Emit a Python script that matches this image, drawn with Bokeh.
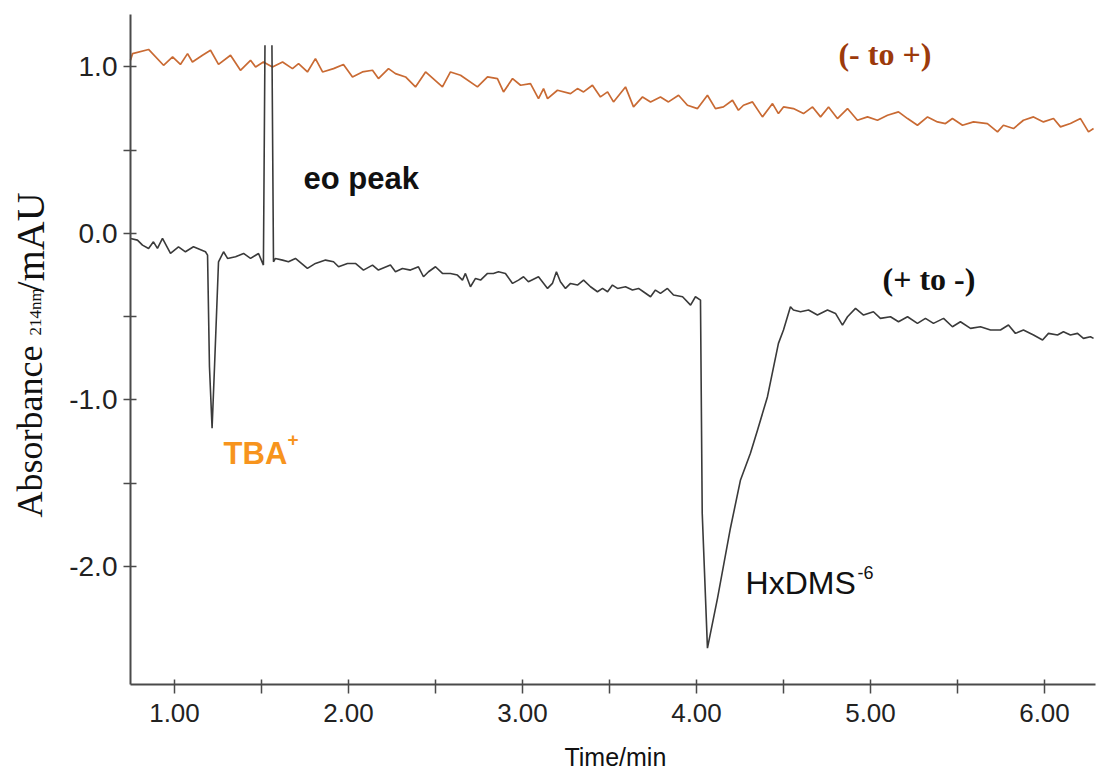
import math
from bokeh.plotting import figure
from bokeh.models import Range1d, FixedTicker, NumeralTickFormatter, Label
from bokeh.embed import file_html
from bokeh.resources import INLINE

NaN = float("nan")

# ---- data ----
# (- to +) trace (orange)
orange_time = [0.747, 0.759, 0.851, 0.937, 0.989, 1.034, 1.075, 1.103, 1.161, 1.207,
               1.253, 1.322, 1.379, 1.437, 1.466, 1.511, 1.563, 1.621, 1.678, 1.713,
               1.764, 1.810, 1.851, 1.914, 1.971, 2.023, 2.080, 2.138, 2.172, 2.230,
               2.270, 2.328, 2.385, 2.443, 2.540, 2.586, 2.644, 2.741, 2.799, 2.856,
               2.891, 2.943, 2.989, 3.046, 3.092, 3.121, 3.144, 3.201, 3.276, 3.316,
               3.351, 3.402, 3.448, 3.489, 3.523, 3.592, 3.638, 3.690, 3.736, 3.793,
               3.839, 3.897, 3.948, 4.006, 4.063, 4.109, 4.155, 4.207, 4.241, 4.270,
               4.322, 4.379, 4.437, 4.471, 4.500, 4.557, 4.615, 4.667, 4.713, 4.759,
               4.810, 4.868, 4.925, 4.983, 5.040, 5.098, 5.161, 5.213, 5.270, 5.328,
               5.385, 5.431, 5.471, 5.529, 5.592, 5.672, 5.730, 5.764, 5.822, 5.879,
               5.937, 5.994, 6.052, 6.092, 6.149, 6.207, 6.253, 6.282]
orange_abs = [1.04, 1.08, 1.105, 1.01, 1.06, 1.015, 1.08, 1.03, 1.07, 1.10,
              1.015, 1.07, 0.98, 1.04, 1.00, 1.03, 1.00, 1.03, 0.99, 1.02,
              0.97, 1.05, 0.97, 0.99, 1.015, 0.94, 0.97, 0.98, 0.93, 0.99,
              0.96, 0.94, 0.88, 0.97, 0.88, 0.97, 0.95, 0.88, 0.94, 0.93,
              0.85, 0.93, 0.89, 0.90, 0.81, 0.87, 0.81, 0.86, 0.84, 0.87,
              0.85, 0.89, 0.82, 0.85, 0.79, 0.88, 0.76, 0.82, 0.79, 0.82,
              0.79, 0.83, 0.77, 0.75, 0.83, 0.75, 0.76, 0.80, 0.74, 0.77,
              0.79, 0.70, 0.78, 0.72, 0.76, 0.75, 0.72, 0.76, 0.70, 0.76,
              0.69, 0.75, 0.68, 0.70, 0.68, 0.71, 0.73, 0.69, 0.65, 0.70,
              0.67, 0.66, 0.69, 0.65, 0.67, 0.66, 0.61, 0.65, 0.63, 0.68,
              0.70, 0.67, 0.69, 0.64, 0.66, 0.69, 0.61, 0.63]

# (+ to -) trace (black); NaN marks the off-scale top of the eo peak
black_time = [0.747, 0.787, 0.816, 0.851, 0.879, 0.902, 0.931, 0.977, 1.023, 1.063,
              1.109, 1.178, 1.190, 1.201, 1.216, 1.230, 1.253, 1.282, 1.305, 1.351,
              1.397, 1.437, 1.483, 1.511, 1.520, NaN, 1.560, 1.569, 1.580, 1.621,
              1.655, 1.695, 1.764, 1.810, 1.868, 1.914, 1.943, 1.994, 2.040, 2.086,
              2.138, 2.172, 2.241, 2.270, 2.310, 2.356, 2.402, 2.431, 2.460, 2.500,
              2.540, 2.586, 2.626, 2.655, 2.672, 2.701, 2.730, 2.759, 2.799, 2.833,
              2.862, 2.902, 2.943, 2.977, 3.006, 3.034, 3.092, 3.144, 3.172, 3.195,
              3.218, 3.247, 3.276, 3.316, 3.351, 3.391, 3.431, 3.460, 3.489, 3.517,
              3.546, 3.592, 3.632, 3.667, 3.695, 3.736, 3.764, 3.793, 3.833, 3.868,
              3.920, 3.966, 3.994, 4.023, 4.033, 4.063, 4.121, 4.195, 4.253, 4.310,
              4.351, 4.408, 4.471, 4.500, 4.540, 4.557, 4.598, 4.644, 4.695, 4.753,
              4.799, 4.839, 4.868, 4.914, 4.960, 5.017, 5.057, 5.115, 5.161, 5.213,
              5.270, 5.316, 5.362, 5.420, 5.471, 5.517, 5.575, 5.632, 5.690, 5.747,
              5.793, 5.833, 5.879, 5.937, 5.989, 6.023, 6.075, 6.109, 6.149, 6.190,
              6.224, 6.264, 6.282]
black_abs = [-0.03, -0.04, -0.07, -0.09, -0.05, -0.09, -0.03, -0.12, -0.08, -0.11,
             -0.08, -0.11, -0.13, -0.80, -1.17, -0.80, -0.17, -0.11, -0.15, -0.14,
             -0.12, -0.15, -0.12, -0.19, 1.13, NaN, 1.13, -0.17, -0.15, -0.16,
             -0.17, -0.15, -0.21, -0.18, -0.16, -0.17, -0.20, -0.18, -0.18, -0.22,
             -0.19, -0.22, -0.19, -0.23, -0.21, -0.22, -0.20, -0.26, -0.23, -0.20,
             -0.24, -0.24, -0.25, -0.28, -0.24, -0.32, -0.27, -0.28, -0.24, -0.24,
             -0.23, -0.24, -0.30, -0.28, -0.26, -0.29, -0.26, -0.33, -0.30, -0.23,
             -0.29, -0.33, -0.30, -0.31, -0.28, -0.32, -0.35, -0.33, -0.35, -0.31,
             -0.33, -0.32, -0.34, -0.33, -0.35, -0.38, -0.34, -0.36, -0.33, -0.37,
             -0.38, -0.43, -0.38, -0.40, -1.68, -2.49, -2.19, -1.77, -1.48, -1.32,
             -1.18, -0.98, -0.66, -0.58, -0.44, -0.46, -0.47, -0.46, -0.49, -0.46,
             -0.48, -0.55, -0.50, -0.45, -0.49, -0.47, -0.51, -0.50, -0.53, -0.50,
             -0.54, -0.51, -0.54, -0.51, -0.56, -0.53, -0.57, -0.56, -0.58, -0.58,
             -0.55, -0.60, -0.58, -0.61, -0.64, -0.60, -0.61, -0.59, -0.61, -0.60,
             -0.63, -0.62, -0.63]

assert len(orange_time) == len(orange_abs)
assert len(black_time) == len(black_abs)

x_major_ticks = [1, 2, 3, 4, 5, 6]
x_minor_ticks = [1.5, 2.5, 3.5, 4.5, 5.5]
y_major_ticks = [-2, -1, 0, 1]
y_minor_ticks = [-1.5, -0.5, 0.5]

x_axis_extent = (0.747, 6.293)
y_axis_extent = (-2.709, 1.315)

x_title = "Time/min"
y_title_main = "Absorbance"
y_title_sub = "214nm"
y_title_unit = "/mAU"

# ---- figure: the frame fills the canvas, axes are pinned inside it ----
p = figure(width=1096, height=773, output_backend="svg", toolbar_location=None,
           x_range=Range1d(0.0, 6.299), y_range=Range1d(-3.243, 1.399),
           min_border=0)
p.background_fill_color = "white"
p.border_fill_color = "white"
p.outline_line_color = None
p.grid.visible = False

p.line(orange_time, orange_abs, line_color="#C96A33", line_width=1.7)
p.line(black_time, black_abs, line_color="#3a3a3a", line_width=1.6)

axis_color = "#4a4a4a"
for ax in (p.xaxis[0], p.yaxis[0]):
    ax.axis_line_color = axis_color
    ax.axis_line_width = 2
    ax.major_tick_line_color = axis_color
    ax.minor_tick_line_color = axis_color
    ax.major_tick_line_width = 1.5
    ax.minor_tick_line_width = 1.5
    ax.major_label_text_font = "Liberation Sans"
    ax.major_label_text_color = "#222222"
    ax.axis_label = None

p.xaxis.fixed_location = y_axis_extent[0]
p.xaxis.bounds = x_axis_extent
p.xaxis.ticker = FixedTicker(ticks=x_major_ticks, minor_ticks=x_minor_ticks)
p.xaxis.formatter = NumeralTickFormatter(format="0.00")
p.xaxis.major_tick_in = 5
p.xaxis.major_tick_out = 9
p.xaxis.minor_tick_in = 5
p.xaxis.minor_tick_out = 9
p.xaxis.major_label_standoff = 10
p.xaxis.major_label_text_font_size = "26px"

p.yaxis.fixed_location = x_axis_extent[0]
p.yaxis.bounds = y_axis_extent
p.yaxis.ticker = FixedTicker(ticks=y_major_ticks, minor_ticks=y_minor_ticks)
p.yaxis.formatter = NumeralTickFormatter(format="0.0")
p.yaxis.major_tick_in = 6
p.yaxis.major_tick_out = 7
p.yaxis.minor_tick_in = 6
p.yaxis.minor_tick_out = 7
p.yaxis.major_label_standoff = 6
p.yaxis.major_label_text_font_size = "28px"

def lab(x, y, text, size, color="#111111", font="Liberation Sans", style="normal",
        angle=0.0, align="left"):
    p.add_layout(Label(x=x, y=y, x_units="data", y_units="data", text=text,
                       text_font=font, text_font_size=size, text_font_style=style,
                       text_color=color, angle=angle, text_align=align,
                       text_baseline="alphabetic"))

# axis titles
lab(3.534, -3.141, x_title, "25px", align="center")
lab(0.172, -1.706, y_title_main, "36px", font="Liberation Serif", angle=math.pi / 2)
lab(0.200, -0.613, y_title_sub, "17px", font="Liberation Serif", angle=math.pi / 2)
lab(0.172, -0.354, y_title_unit, "40px", font="Liberation Serif", angle=math.pi / 2)

# peak annotations
lab(1.741, 0.330, "eo peak", "31px", style="bold")
lab(1.282, -1.321, "TBA", "31px", color="#F7941D", style="bold")
lab(1.650, -1.240, "+", "19px", color="#F7941D", style="bold")
lab(4.282, -2.102, "HxDMS", "32px")
lab(4.925, -2.035, "-6", "18px")
lab(4.816, 1.075, "(- to +)", "32px", color="#9C3A0B", font="Liberation Serif", style="bold")
lab(5.069, -0.276, "(+ to -)", "32px", color="#111111", font="Liberation Serif", style="bold")

open("out.html", "w").write(file_html(p, INLINE))
